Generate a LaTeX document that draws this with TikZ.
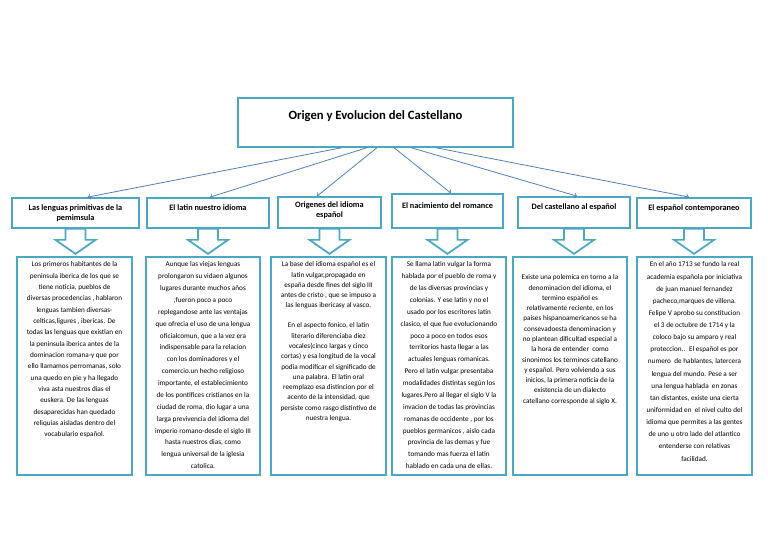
\documentclass[tikz,border=0pt]{standalone}
\usepackage{fontspec}
\setmainfont{Carlito}
\usetikzlibrary{positioning}
\usetikzlibrary{calc}
\usetikzlibrary{arrows}
\definecolor{aqua}{RGB}{75,168,196}
\definecolor{lineblue}{RGB}{79,129,189}

\tikzset{hollowdown/.pic={
	\draw[aqua, line width=1.3pt, fill=white, line join=miter] (-10,0) -- (-10,11) -- (-20,11) -- (0,25) -- (20,11) -- (10,11) -- (10,0) -- cycle;
}}

\begin{document}
\begin{tikzpicture}[x=0.75pt,y=-0.75pt]
			\tikzstyle{titlebox}=[draw=aqua, line width=1pt, minimum width=206.25pt, minimum height=36.75pt, inner sep=0pt]
			\tikzstyle{headbox}=[draw=aqua, line width=1.3pt, minimum height=22.5pt, inner sep=0pt]
			\tikzstyle{textbox}=[draw=aqua, line width=1.3pt, minimum width=86pt, minimum height=163.5pt, inner sep=0pt]
			\tikzstyle{titletext}=[inner sep=0pt, anchor=north, font=\bfseries\fontsize{9.5}{11}\selectfont]
			\tikzstyle{headtext}=[align=center, inner sep=0pt, anchor=north, font=\bfseries\fontsize{6.2}{7.5}\selectfont]
			\tikzstyle{bodytext}=[align=center, inner sep=0pt, anchor=north, font=\fontsize{5.4}{7.7}\selectfont]
			\tikzstyle{conn}=[->, draw=lineblue, line width=0.6pt]
			
			\useasboundingbox (0,0) rectangle (768,543);
			
			% titulo
			\node at (375.5,122.5) [titlebox] (title) {};
			\node at (375.5,110.8) [titletext] (titlelbl) {Origen y Evolucion del Castellano};
			
			% encabezados
			\node at (75.5,213) [headbox, minimum width=95.25pt] (h1) {};
			\node at (75.5,204) [headtext] (ht1) {Las lenguas primitivas de la\\pemimsula};
			\node at (208,213) [headbox, minimum width=91.5pt] (h2) {};
			\node at (208,204) [headtext] (ht2) {El latin nuestro idioma};
			\node at (329.5,212.5) [headbox, minimum width=77.25pt, minimum height=23.25pt] (h3) {};
			\node at (329.5,201) [headtext] (ht3) {Origenes del idioma\\espa\~nol};
			\node at (447.5,211) [headbox, minimum width=83.25pt, minimum height=25.5pt] (h4) {};
			\node at (447.5,202) [headtext] (ht4) {El nacimiento del romance};
			\node at (574,212.5) [headbox, minimum width=84pt, minimum height=23.25pt] (h5) {};
			\node at (574,203) [headtext] (ht5) {Del castellano al espa\~nol};
			\node at (694,213) [headbox, minimum width=85.5pt] (h6) {};
			\node at (694,204) [headtext] (ht6) {El espa\~nol contemporaneo};
			
			\draw [conn] ($(title.south)+(-33.5,0)$) -- ($(h1.north)+(12,0)$);
			\draw [conn] ($(title.south)+(-8.5,0)$) -- ($(h2.north)+(2,0)$);
			\draw [conn] ($(title.south)+(1.5,0)$) -- ($(h3.north)+(-12.5,0)$);
			\draw [conn] ($(title.south)+(18.5,0)$) -- ($(h4.north)+(3.5,0)$);
			\draw [conn] ($(title.south)+(35.5,0)$) -- ($(h5.north)+(3,0)$);
			\draw [conn] ($(title.south)+(60,0)$) -- ($(h6.north)+(-5,0)$);
			
			\pic at (h1.south) {hollowdown};
			\pic at (h2.south) {hollowdown};
			\pic at (h3.south) {hollowdown};
			\pic at (h4.south) {hollowdown};
			\pic at (h5.south) {hollowdown};
			\pic at (h6.south) {hollowdown};
			
			% columnas
			\node at (74.5,366) [textbox] (c1) {};
			\node at (74.5,261.6) [bodytext, font=\fontsize{5.4}{8.5}\selectfont] (t1) {Los primeros habitantes de la\\peninsula iberica de los que se\\tiene noticia, pueblos de\\diversas procedencias , hablaron\\lenguas tambien diversas-\\celticas,ligures , ibericas. De\\todas las lenguas que existian en\\la peninsula iberica antes de la\\dominacion romana-y que por\\ello llamamos perromanas, solo\\una quedo en pie y ha llegado\\viva asta nuestros dias el\\euskera. De las lenguas\\desaparecidas han quedado\\reliquias aisladas dentro del\\vocabulario espa\~nol.};
			
			\node at (203,366) [textbox] (c2) {};
			\node at (203,261.6) [bodytext, font=\fontsize{5.4}{8.9}\selectfont] (t2) {Aunque las viejas lenguas\\prolongaron su vidaen algunos\\lugares durante muchos a\~nos\\,fueron poco a poco\\replegandose ante las ventajas\\que ofrecia el uso de una lengua\\oficialcomun, que a la vez era\\indispensable para la relacion\\con los dominadores y el\\comercio.un hecho religioso\\importante, el establecimiento\\de los pontifices cristianos en la\\ciudad de roma, dio lugar a una\\larga previvencia del idioma del\\imperio romano-desde el siglo III\\hasta nuestros dias, como\\lengua universal de la iglesia\\catolica.};
			
			\node at (328.5,366) [textbox] (c3) {};
			\node at (328.5,261.6) [bodytext] (t3) {La base del idioma espa\~nol es el\\latin vulgar,propagado en\\espa\~na desde fines del siglo III\\antes de cristo , que se impuso a\\las lenguas ibericasy al vasco.\\[7.3pt]En el aspecto fonico, el latin\\literario diferenciaba diez\\vocales(cinco largas y cinco\\cortas) y esa longitud de la vocal\\podia modificar el significado de\\una palabra. El latin oral\\reemplazo esa distincion por el\\acento de la intensidad, que\\persiste como rasgo distintivo de\\nuestra lengua.};
			
			\node at (449,366) [textbox] (c4) {};
			\node at (449,261.6) [bodytext, font=\fontsize{5.4}{8.9}\selectfont] (t4) {Se llama latin vulgar la forma\\hablada por el pueblo de roma y\\de las diversas provincias y\\colonias. Y ese latin y no el\\usado por los escritores latin\\clasico, el que fue evolucionando\\poco a poco en todos esos\\territorios hasta llegar a las\\actuales lenguas romanicas.\\Pero el latin vulgar presentaba\\modalidades distintas seg\'un los\\lugares.Pero al llegar el siglo V la\\invacion de todas las provincias\\romanas de occidente , por los\\pueblos germanicos , aislo cada\\provincia de las demas y fue\\tomando mas fuerza el latin\\hablado en cada una de ellas.};
			
			\node at (570,366) [textbox] (c5) {};
			\node at (570,274.6) [bodytext] (t5) {Existe una polemica en torno a la\\denominacion del idioma, el\\termino espa\~nol es\\relativamente reciente, en los\\paises hispanoamericanos se ha\\consevadoesta denominacion y\\no plantean dificultad especial a\\la hora de entender \ como\\sinonimos los terminos catellano\\y espa\~nol. Pero volviendo a sus\\inicios, la primera noticia de la\\existencia de un dialecto\\catellano corresponde al siglo X.};
			
			\node at (694.5,366) [textbox] (c6) {};
			\node at (694.5,261.6) [bodytext, font=\fontsize{5.4}{9.1}\selectfont] (t6) {En el a\~no 1713 se fundo la real\\academia espa\~nola por iniciativa\\de juan manuel fernandez\\pacheco,marques de villena.\\Felipe V aprobo su constitucion\\el 3 de octubre de 1714 y la\\coloco bajo su amparo y real\\proteccion.. \ El espa\~nol es por\\numero \ de hablantes, latercera\\lengua del mundo. Pese a ser\\una lengua hablada \ en zonas\\tan distantes, existe una cierta\\uniformidad en \ el nivel culto del\\idioma que permites a las gentes\\de uno u otro lado del atlantico\\entenderse con relativas\\facilidad.};
		\end{tikzpicture}
\end{document}
